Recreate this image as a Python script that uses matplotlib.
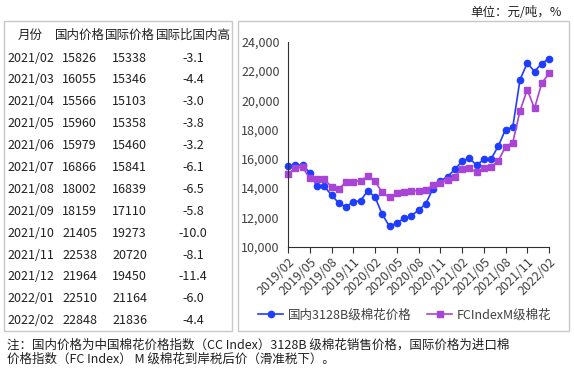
import matplotlib
matplotlib.use("Agg")
import matplotlib.pyplot as plt
from matplotlib.patches import Rectangle

plt.rcParams['font.family'] = ['Noto Sans CJK SC', 'DejaVu Sans']

# monthly series 2019/02 .. 2022/02 (yuan/ton)
months = ["%d/%02d" % (2019 + (m + 1) // 12, (m + 1) % 12 + 1) for m in range(37)]
domestic = [15500, 15550, 15600, 15050, 14120, 14120, 13530, 12980, 12710, 13070,
            13140, 13820, 13390, 12210, 11390, 11620, 11930, 12120, 12480, 12940,
            13960, 14480, 14780, 15280, 15826, 16055, 15566, 15960, 15979, 16866,
            18002, 18159, 21405, 22538, 21964, 22510, 22848]
international = [14960, 15350, 15440, 14670, 14640, 14600, 14100, 13940, 14420, 14440,
                 14510, 14800, 14460, 13710, 13370, 13640, 13730, 13820, 13820, 13850,
                 14210, 14370, 14530, 14780, 15338, 15346, 15103, 15358, 15460, 15841,
                 16839, 17110, 19273, 20720, 19450, 21164, 21836]

# table (last 13 months)
table_header = ["月份", "国内价格", "国际价格", "国际比国内高"]
table_months = months[-13:]
table_dom = domestic[-13:]
table_int = international[-13:]
table_ratio = [-3.1, -4.4, -3.0, -3.8, -3.2, -6.1, -6.5, -5.8, -10.0, -8.1, -11.4, -6.0, -4.4]

legend_labels = ["国内3128B级棉花价格", "FCIndexM级棉花"]
unit_text = "单位：元/吨，%"
note_lines = ["注：国内价格为中国棉花价格指数（CC Index）3128B 级棉花销售价格，国际价格为进口棉",
              "价格指数（FC Index） M 级棉花到岸税后价（滑准税下）。"]

W, H = 574, 374
fig = plt.figure(figsize=(W / 100, H / 100), dpi=100)


def fx(x):
    return x / W


def fy(y):
    return 1 - y / H


# boxes
fig.patches.append(Rectangle((fx(4), fy(331)), fx(228), 310 / H, transform=fig.transFigure,
                             fill=False, edgecolor='#c8c8c8', linewidth=1))
fig.patches.append(Rectangle((fx(238), fy(331)), fx(331), 310 / H, transform=fig.transFigure,
                             fill=False, edgecolor='#c8c8c8', linewidth=1))

# table text
tc = '#202020'
fs = 9
col_x = [30, 80, 130, 193]
fig.text(fx(col_x[0]), fy(35), table_header[0], ha='center', va='center', fontsize=fs, color=tc)
fig.text(fx(col_x[1]), fy(35), table_header[1], ha='center', va='center', fontsize=fs, color=tc)
fig.text(fx(col_x[2]), fy(35), table_header[2], ha='center', va='center', fontsize=fs, color=tc)
fig.text(fx(col_x[3]), fy(35), table_header[3], ha='center', va='center', fontsize=fs, color=tc)
for i in range(len(table_months)):
    y = 58 + i * 21.9
    fig.text(fx(7), fy(y), table_months[i], ha='left', va='center', fontsize=fs, color=tc)
    fig.text(fx(62), fy(y), str(table_dom[i]), ha='left', va='center', fontsize=fs, color=tc)
    fig.text(fx(112), fy(y), str(table_int[i]), ha='left', va='center', fontsize=fs, color=tc)
    fig.text(fx(193), fy(y), "%.1f" % table_ratio[i], ha='center', va='center', fontsize=fs, color=tc)

# unit & note
fig.text(fx(562), fy(12), unit_text, ha='right', va='center', fontsize=9, color='#202020')
fig.text(fx(7), fy(345), note_lines[0], ha='left', va='center', fontsize=9, color='#202020')
fig.text(fx(7), fy(359), note_lines[1], ha='left', va='center', fontsize=9, color='#202020')

# chart
ax = fig.add_axes([fx(288), fy(246.7), fx(549 - 288), 205 / H])
x = list(range(len(months)))
l1, = ax.plot(x, domestic, color='#1f3dff', marker='o', markersize=4.5, linewidth=1.2, clip_on=False)
l2, = ax.plot(x, international, color='#a845d6', marker='s', markersize=4.2, linewidth=1.2, clip_on=False)
ax.set_xlim(0, 36)
ax.set_ylim(10000, 24000)
ax.set_yticks(range(10000, 24001, 2000))
ax.set_yticklabels(["{:,}".format(v) for v in range(10000, 24001, 2000)])
ax.set_xticks(x[::3])
ax.set_xticklabels(months[::3], rotation=45, ha='right', rotation_mode='anchor')
for s in ['top', 'right']:
    ax.spines[s].set_visible(False)
ax.spines['left'].set_color('#303030')
ax.spines['bottom'].set_color('#303030')
ax.tick_params(axis='y', length=0, pad=6, labelsize=9, labelcolor='#404040')
ax.tick_params(axis='x', length=4, direction='out', color='#303030', pad=2, labelsize=9, labelcolor='#404040')

fig.legend([l1, l2], legend_labels, loc='center', bbox_to_anchor=(fx(405), fy(315)), ncol=2,
           frameon=False, fontsize=9, handlelength=2.0, columnspacing=1.2, handletextpad=0.4,
           labelcolor='#404040')

fig.savefig("out.png", dpi=100)
